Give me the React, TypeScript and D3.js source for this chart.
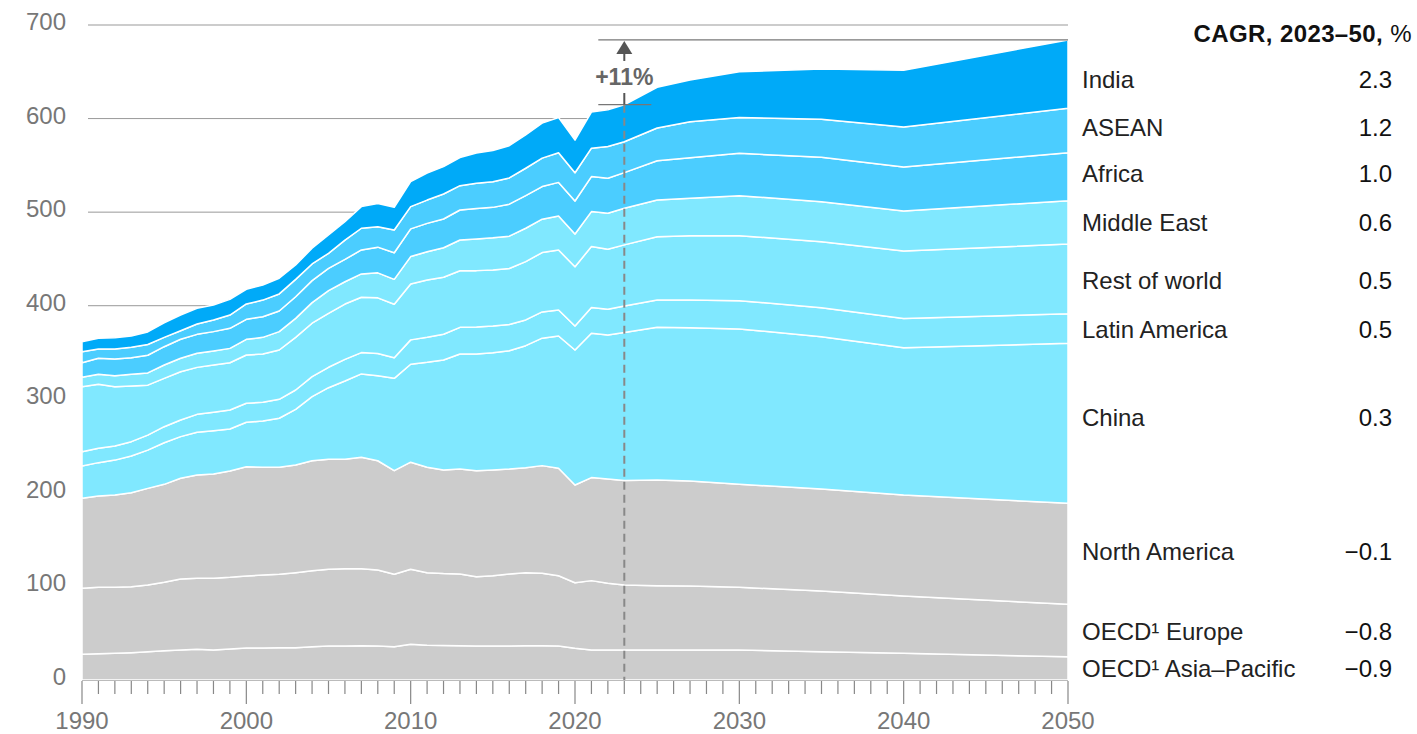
import React from 'react';
import * as d3 from 'd3';

const years = [1990,1991,1992,1993,1994,1995,1996,1997,1998,1999,2000,2001,2002,2003,2004,2005,2006,2007,2008,2009,2010,2011,2012,2013,2014,2015,2016,2017,2018,2019,2020,2021,2022,2023,2025,2027,2030,2035,2040,2050];

const oecdAsiaPacific = [27.5,28.1,28.5,29.2,30.2,31.3,32.1,32.8,32.1,33.1,34.2,34.2,34.5,34.5,35.6,36.3,36.3,36.7,36.3,35.6,38.2,37.1,36.9,36.7,36.3,36.3,36.3,36.7,36.7,36.3,33.9,32.1,32.1,32.1,32.1,32.1,32.1,30.2,28.5,24.9];
const oecdEurope = [70.5,71.0,70.5,70.5,71.3,73.1,75.9,75.9,76.6,76.6,76.9,78.0,78.4,80.2,81.2,82.0,82.6,82.3,81.2,77.4,80.2,77.6,76.9,76.6,74.1,75.1,76.9,78.0,77.4,75.1,70.1,74.1,71.3,69.5,68.7,68.4,67.0,64.9,61.2,56.0];
const northAmerica = [96.2,97.6,98.6,100.5,103.3,104.7,107.6,110.4,111.5,113.6,116.8,115.1,114.4,115.1,117.6,117.6,116.9,119.1,116.8,110.7,114.4,112.6,110.6,112.2,113.3,113.0,112.2,112.2,115.0,114.8,104.4,110.1,111.5,111.5,113.0,112.2,110.1,109.0,107.9,107.9];
const china = [34.5,35.6,37.4,39.2,40.9,44.5,44.5,45.6,46.3,44.9,47.5,49.5,52.4,59.5,68.4,76.5,83.7,89.0,90.8,98.7,104.7,112.2,117.6,122.9,124.7,125.4,126.4,130.4,136.2,141.4,144.3,154.3,153.9,158.2,163.2,163.8,166.0,162.8,157.4,171.0];
const latinAmerica = [15.3,15.4,15.0,15.3,16.0,17.1,17.8,19.2,19.7,20.3,20.3,20.0,20.3,20.6,21.4,21.8,23.2,22.8,23.9,22.0,26.0,26.7,27.5,28.5,28.9,28.5,28.2,27.5,28.1,27.8,25.6,27.4,27.5,28.5,29.2,29.6,30.2,31.0,31.4,31.6];
const restOfWorld = [69.5,68.4,63.4,59.5,53.4,51.7,51.6,50.2,50.5,50.5,51.6,51.6,52.7,56.3,57.1,57.7,59.1,59.2,59.4,57.1,59.8,61.2,60.9,60.5,60.2,59.8,59.8,62.3,63.4,64.1,63.4,65.2,64.1,65.2,67.6,68.7,69.5,70.5,72.2,74.5];
const middleEast = [10.0,10.7,11.8,12.5,13.1,14.2,14.3,15.0,15.0,15.4,16.8,17.8,19.6,20.3,22.0,24.2,23.8,24.9,26.7,26.7,29.2,30.2,31.6,32.8,33.9,34.5,34.5,35.7,35.7,36.3,34.9,37.4,38.5,39.2,39.2,40.0,42.7,42.7,42.7,46.3];
const africa = [15.6,17.1,17.8,17.7,18.9,19.6,20.3,20.3,20.6,21.4,21.4,22.0,22.1,23.1,23.5,23.9,23.9,25.6,27.5,28.4,29.6,30.4,30.7,32.1,32.4,32.5,34.2,34.8,34.8,36.0,35.3,37.4,37.4,38.0,42.0,43.4,45.3,47.5,47.0,51.3];
const asean = [11.8,9.9,10.7,11.1,11.4,10.0,9.2,11.0,12.5,14.2,16.4,17.8,18.2,18.6,17.8,16.0,20.6,23.2,21.7,24.3,23.8,24.9,26.7,26.0,27.1,27.4,28.1,29.3,30.4,31.6,30.2,30.4,33.8,33.1,34.9,38.5,38.3,40.6,42.7,47.5];
const india = [10.7,11.4,12.1,12.1,13.5,15.6,16.8,16.8,16.0,16.8,15.7,16.0,16.8,15.3,16.8,19.6,19.6,23.1,25.0,24.3,26.7,28.9,29.2,30.1,32.4,33.3,34.4,35.6,37.4,37.8,34.9,38.5,39.2,39.5,43.5,44.6,48.9,53.8,60.6,73.0];

const seriesKeys = ['apac','europe','na','china','latam','row','me','africa','asean','india'];
const seriesValues = [oecdAsiaPacific, oecdEurope, northAmerica, china, latinAmerica, restOfWorld, middleEast, africa, asean, india];
const regionLabels = ['OECD¹ Asia–Pacific','OECD¹ Europe','North America','China','Latin America','Rest of world','Middle East','Africa','ASEAN','India'];
const cagrLabels = ['−0.9','−0.8','−0.1','0.3','0.5','0.5','0.6','1.0','1.2','2.3'];
const seriesColors = ['#cccccc','#cccccc','#cccccc','#80e8ff','#80e8ff','#80e8ff','#80e8ff','#4bcdff','#4bcdff','#00aaf8'];

const yTicks = [0,100,200,300,400,500,600,700];
const xMajorTicks = [1990,2000,2010,2020,2030,2040,2050];
const baseYear = 2023;
const growthLabel = '+11%';

// layout-only nudges (px) of legend rows relative to the band midpoints at 2050
const labelNudge = [0, 1, -2, -6, 1, 2, 0, -3, -3, 5];

const FONT = '"Liberation Sans", Arial, sans-serif';

export default function App() {
  const W = 1417, H = 734;
  const x = d3.scaleLinear().domain([1990, 2050]).range([82, 1068]);
  const y = d3.scaleLinear().domain([0, 700]).range([680, 25]);

  const rows = years.map((yr, i) => {
    const r: any = { year: yr };
    seriesKeys.forEach((k, j) => { r[k] = seriesValues[j][i]; });
    return r;
  });
  const stacked = d3.stack().keys(seriesKeys)(rows);
  const area = d3.area<any>()
    .x(d => x(d.data.year))
    .y0(d => y(d[0]))
    .y1(d => y(d[1]))
    .curve(d3.curveLinear);

  const last = years.length - 1;
  const idx23 = years.indexOf(baseYear);
  const total50 = stacked[stacked.length - 1][last][1];
  const total23 = stacked[stacked.length - 1][idx23][1];
  const xb = x(baseYear);
  const yTop = y(total50);
  const yLow = y(total23);

  const minorTicks = d3.range(1990, 2051);

  return (
    <svg width={W} height={H} style={{ position: 'absolute', left: 0, top: 0, background: '#fff' }} fontFamily={FONT}>
      {yTicks.filter(t => t > 0).map(t => (
        <line key={'g' + t} x1={88} x2={1068} y1={y(t)} y2={y(t)} stroke="#999" strokeWidth={1} />
      ))}
      {yTicks.map(t => (
        <text key={'yl' + t} x={66} y={y(t) + 5} textAnchor="end" fontSize={24} fill="#777">{t}</text>
      ))}
      {stacked.map((s, i) => (
        <path key={s.key} d={area(s as any) || ''} fill={seriesColors[i]} stroke="#fff" strokeWidth={1.5} strokeLinejoin="round" />
      ))}
      {/* x axis */}
      <line x1={82} x2={1068} y1={680.5} y2={680.5} stroke="#bbb" strokeWidth={1} />
      {minorTicks.map(t => (
        <line key={'t' + t} x1={x(t)} x2={x(t)} y1={681} y2={xMajorTicks.includes(t) ? 704 : 694} stroke="#888" strokeWidth={1.2} />
      ))}
      {xMajorTicks.map(t => (
        <text key={'xl' + t} x={x(t)} y={729} textAnchor="middle" fontSize={24} fill="#777">{t}</text>
      ))}
      {/* annotation */}
      <line x1={xb - 26} x2={1068} y1={yTop} y2={yTop} stroke="#777" strokeWidth={1.2} />
      <line x1={xb - 26} x2={xb + 27} y1={yLow} y2={yLow} stroke="#777" strokeWidth={1.2} />
      <path d={`M${xb},${yTop + 1} L${xb + 8},${yTop + 14} L${xb - 8},${yTop + 14} Z`} fill="#555" />
      <line x1={xb} x2={xb} y1={yTop + 13} y2={yTop + 21} stroke="#555" strokeWidth={2} />
      <text x={xb} y={yTop + 45} textAnchor="middle" fontSize={23} fontWeight="bold" fill="#666">{growthLabel}</text>
      <line x1={xb} x2={xb} y1={yTop + 53} y2={yLow} stroke="#555" strokeWidth={2} />
      <line x1={xb} x2={xb} y1={yLow} y2={680} stroke="#888" strokeWidth={2} strokeDasharray="8,5" />
      {/* legend */}
      <text x={1412} y={42} textAnchor="end" fontSize={24} fill="#111" letterSpacing={0.4}>
        <tspan fontWeight="bold">CAGR, 2023–50,</tspan><tspan> %</tspan>
      </text>
      {stacked.map((s, i) => {
        const d = s[last];
        const ym = y((d[0] + d[1]) / 2) + labelNudge[i];
        return (
          <g key={'lg' + s.key}>
            <text x={1082} y={ym} dy="0.35em" fontSize={24} fill="#222">{regionLabels[i]}</text>
            <text x={1392} y={ym} dy="0.35em" textAnchor="end" fontSize={24} fill="#111">{cagrLabels[i]}</text>
          </g>
        );
      })}
    </svg>
  );
}
